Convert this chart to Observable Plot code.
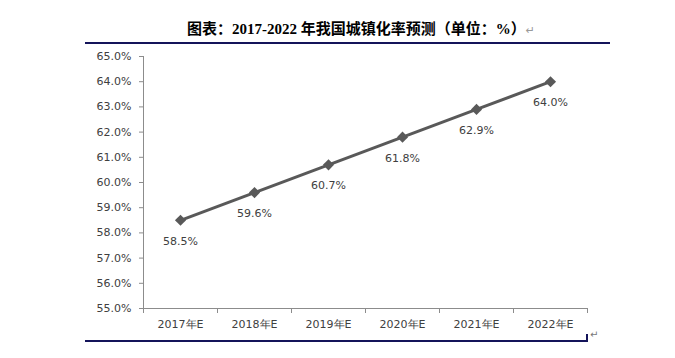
<!DOCTYPE html>
<html><head><meta charset="utf-8">
<script src="https://cdn.jsdelivr.net/npm/d3@7"></script>
<script src="https://cdn.jsdelivr.net/npm/@observablehq/plot@0.6"></script>
<style>
body{margin:0;background:#fff;}
#wrap{position:relative;width:675px;height:358px;overflow:hidden;}
#title{position:absolute;left:0;width:722px;top:17px;text-align:center;font-family:"Liberation Serif","Noto Sans CJK SC",serif;font-weight:bold;font-size:15px;color:#000;white-space:nowrap;}
#title .pm{font-weight:normal;color:#999;font-size:11px;font-family:"DejaVu Sans";}
.hl{position:absolute;height:2px;background:#14145a;}
#pm2{position:absolute;left:590px;top:329px;color:#777;font-size:10px;font-family:"DejaVu Sans";}
#chart{position:absolute;left:0;top:0;}
</style></head>
<body><div id="wrap">
<div id="chart"></div>
<div id="title">图表：2017-2022 年我国城镇化率预测（单位：%）<span class="pm">↵</span></div>
<div class="hl" style="left:85px;width:525px;top:42px;"></div>
<div class="hl" style="left:85px;width:502px;top:340px;"></div>
<div class="hl" style="left:586px;width:2px;height:8px;top:334px;"></div>
<div id="pm2">↵</div>
</div>
<script>
const categories = ["2017年E","2018年E","2019年E","2020年E","2021年E","2022年E"];
const values = [58.5, 59.6, 60.7, 61.8, 62.9, 64.0];
const yTicks = [55,56,57,58,59,60,61,62,63,64,65];

const data = categories.map((c,i)=>({i, c, v: values[i]}));
const bounds = d3.range(categories.length+1).map(k=>k-0.5);

const plot = Plot.plot({
  width: 675, height: 358,
  marginTop: 56, marginBottom: 50, marginLeft: 143, marginRight: 88,
  style: {fontFamily: "DejaVu Sans", fontSize: "11px", color: "#404040", background: "transparent"},
  x: {domain: [-0.5, categories.length-0.5]},
  y: {domain: [55, 65]},
  marks: [
    Plot.axisY({ticks: yTicks, tickSize: 4, tickPadding: 8, tickFormat: d=>d.toFixed(1)+"%", stroke: "#8c8c8c", fill: "#404040", label: null}),
    Plot.axisX({ticks: bounds, tickSize: 5, tickFormat: ()=>"", stroke: "#8c8c8c", label: null}),
    Plot.axisX({ticks: d3.range(categories.length), tickSize: 0, tickPadding: 12, tickFormat: i=>categories[i], fill: "#404040", label: null}),
    Plot.ruleX([-0.5], {y1: 55, y2: 65, stroke: "#8c8c8c"}),
    Plot.ruleY([55], {x1: -0.5, x2: categories.length-0.5, stroke: "#8c8c8c"}),
    Plot.line(data, {x: "i", y: "v", stroke: "#595959", strokeWidth: 3}),
    Plot.dot(data, {x: "i", y: "v", symbol: "diamond2", r: 5, fill: "#595959", stroke: "none"}),
    Plot.text(data, {x: "i", y: "v", dy: 21, text: d=>d.v.toFixed(1)+"%", fill: "#404040", fontSize: 11})
  ]
});
document.getElementById("chart").appendChild(plot);
</script>
</body></html>
